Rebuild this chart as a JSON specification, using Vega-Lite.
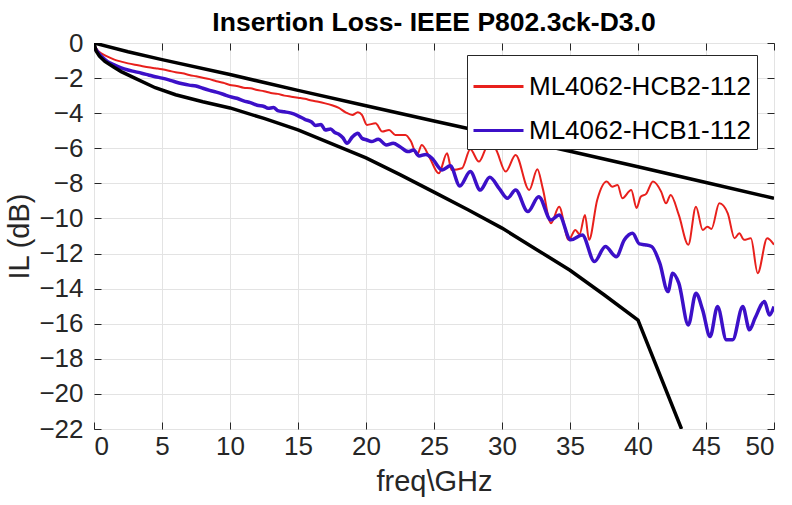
{
  "$schema": "https://vega.github.io/schema/vega-lite/v6.json",
  "width": 680,
  "height": 386,
  "autosize": "none",
  "padding": {"left": 94, "top": 43, "right": 18, "bottom": 76},
  "background": "white",
  "config": {
    "font": "Liberation Sans",
    "view": {"stroke": "#262626", "strokeWidth": 1},
    "axis": {
      "domain": false,
      "grid": true,
      "gridColor": "#e3e3e3",
      "gridWidth": 1,
      "tickColor": "#262626",
      "tickSize": -7,
      "labelFontSize": 26,
      "labelColor": "#262626",
      "titleFontSize": 29,
      "titleFontWeight": "normal",
      "titleColor": "#262626"
    },
    "legend": {
      "orient": "none",
      "legendX": 373,
      "legendY": 12,
      "symbolType": "stroke",
      "symbolSize": 2500,
      "symbolStrokeWidth": 3,
      "labelFontSize": 26,
      "labelColor": "black",
      "labelLimit": 0,
      "labelOffset": 4,
      "rowPadding": 4,
      "padding": 5,
      "strokeColor": "#262626",
      "fillColor": "white"
    }
  },
  "title": {
    "text": "Insertion Loss- IEEE P802.3ck-D3.0",
    "fontSize": 26.5,
    "fontWeight": "bold",
    "color": "black",
    "offset": -6,
    "anchor": "middle"
  },
  "datasets": {
    "meas": [
      {"s": "ML4062-HCB2-112", "f": 0, "v": -0.1},
      {"s": "ML4062-HCB2-112", "f": 0.3, "v": -0.45},
      {"s": "ML4062-HCB2-112", "f": 0.6, "v": -0.62},
      {"s": "ML4062-HCB2-112", "f": 1.0, "v": -0.78},
      {"s": "ML4062-HCB2-112", "f": 1.5, "v": -0.95},
      {"s": "ML4062-HCB2-112", "f": 2.0, "v": -1.06},
      {"s": "ML4062-HCB2-112", "f": 2.5, "v": -1.16},
      {"s": "ML4062-HCB2-112", "f": 3.0, "v": -1.24},
      {"s": "ML4062-HCB2-112", "f": 3.5, "v": -1.31},
      {"s": "ML4062-HCB2-112", "f": 4.0, "v": -1.38},
      {"s": "ML4062-HCB2-112", "f": 4.5, "v": -1.44},
      {"s": "ML4062-HCB2-112", "f": 5.0, "v": -1.5},
      {"s": "ML4062-HCB2-112", "f": 5.5, "v": -1.58},
      {"s": "ML4062-HCB2-112", "f": 6.0, "v": -1.67},
      {"s": "ML4062-HCB2-112", "f": 6.5, "v": -1.73},
      {"s": "ML4062-HCB2-112", "f": 7.0, "v": -1.82},
      {"s": "ML4062-HCB2-112", "f": 7.5, "v": -1.9},
      {"s": "ML4062-HCB2-112", "f": 8.0, "v": -1.98},
      {"s": "ML4062-HCB2-112", "f": 8.5, "v": -2.06},
      {"s": "ML4062-HCB2-112", "f": 9.0, "v": -2.18},
      {"s": "ML4062-HCB2-112", "f": 9.5, "v": -2.27},
      {"s": "ML4062-HCB2-112", "f": 10.0, "v": -2.39},
      {"s": "ML4062-HCB2-112", "f": 10.5, "v": -2.45},
      {"s": "ML4062-HCB2-112", "f": 11.0, "v": -2.55},
      {"s": "ML4062-HCB2-112", "f": 11.5, "v": -2.58},
      {"s": "ML4062-HCB2-112", "f": 12.0, "v": -2.68},
      {"s": "ML4062-HCB2-112", "f": 12.5, "v": -2.75},
      {"s": "ML4062-HCB2-112", "f": 13.0, "v": -2.85},
      {"s": "ML4062-HCB2-112", "f": 13.5, "v": -2.9},
      {"s": "ML4062-HCB2-112", "f": 14.0, "v": -3.0},
      {"s": "ML4062-HCB2-112", "f": 14.5, "v": -3.06},
      {"s": "ML4062-HCB2-112", "f": 15.0, "v": -3.12},
      {"s": "ML4062-HCB2-112", "f": 15.5, "v": -3.18},
      {"s": "ML4062-HCB2-112", "f": 16.0, "v": -3.28},
      {"s": "ML4062-HCB2-112", "f": 16.5, "v": -3.35},
      {"s": "ML4062-HCB2-112", "f": 17.0, "v": -3.44},
      {"s": "ML4062-HCB2-112", "f": 17.5, "v": -3.55},
      {"s": "ML4062-HCB2-112", "f": 18.0, "v": -3.7},
      {"s": "ML4062-HCB2-112", "f": 18.5, "v": -3.95},
      {"s": "ML4062-HCB2-112", "f": 19.0, "v": -4.1},
      {"s": "ML4062-HCB2-112", "f": 19.4, "v": -3.95},
      {"s": "ML4062-HCB2-112", "f": 19.7, "v": -4.1},
      {"s": "ML4062-HCB2-112", "f": 20.07, "v": -4.67},
      {"s": "ML4062-HCB2-112", "f": 20.7, "v": -4.58},
      {"s": "ML4062-HCB2-112", "f": 21.2, "v": -5.05},
      {"s": "ML4062-HCB2-112", "f": 21.7, "v": -4.96},
      {"s": "ML4062-HCB2-112", "f": 22.15, "v": -5.24},
      {"s": "ML4062-HCB2-112", "f": 22.9, "v": -5.24},
      {"s": "ML4062-HCB2-112", "f": 23.3, "v": -5.6},
      {"s": "ML4062-HCB2-112", "f": 23.75, "v": -6.38},
      {"s": "ML4062-HCB2-112", "f": 24.1, "v": -5.81},
      {"s": "ML4062-HCB2-112", "f": 24.7, "v": -6.57},
      {"s": "ML4062-HCB2-112", "f": 25.35, "v": -7.43},
      {"s": "ML4062-HCB2-112", "f": 25.96, "v": -6.29},
      {"s": "ML4062-HCB2-112", "f": 26.3, "v": -7.24},
      {"s": "ML4062-HCB2-112", "f": 27.06, "v": -7.14},
      {"s": "ML4062-HCB2-112", "f": 27.67, "v": -6.06},
      {"s": "ML4062-HCB2-112", "f": 28.3, "v": -6.76},
      {"s": "ML4062-HCB2-112", "f": 29.0, "v": -5.81},
      {"s": "ML4062-HCB2-112", "f": 29.5, "v": -6.0},
      {"s": "ML4062-HCB2-112", "f": 30.27, "v": -7.33},
      {"s": "ML4062-HCB2-112", "f": 31.0, "v": -6.38},
      {"s": "ML4062-HCB2-112", "f": 32.0, "v": -8.38},
      {"s": "ML4062-HCB2-112", "f": 32.6, "v": -7.2},
      {"s": "ML4062-HCB2-112", "f": 33.0, "v": -8.3},
      {"s": "ML4062-HCB2-112", "f": 33.6, "v": -10.27},
      {"s": "ML4062-HCB2-112", "f": 34.2, "v": -9.33},
      {"s": "ML4062-HCB2-112", "f": 34.9, "v": -11.22},
      {"s": "ML4062-HCB2-112", "f": 35.4, "v": -10.66},
      {"s": "ML4062-HCB2-112", "f": 35.7, "v": -10.9},
      {"s": "ML4062-HCB2-112", "f": 36.1, "v": -9.8},
      {"s": "ML4062-HCB2-112", "f": 36.4, "v": -11.22},
      {"s": "ML4062-HCB2-112", "f": 37.0, "v": -8.95},
      {"s": "ML4062-HCB2-112", "f": 37.7, "v": -7.9},
      {"s": "ML4062-HCB2-112", "f": 38.1, "v": -8.19},
      {"s": "ML4062-HCB2-112", "f": 38.5, "v": -8.09},
      {"s": "ML4062-HCB2-112", "f": 38.85, "v": -8.85},
      {"s": "ML4062-HCB2-112", "f": 39.5, "v": -8.38},
      {"s": "ML4062-HCB2-112", "f": 39.9, "v": -9.4},
      {"s": "ML4062-HCB2-112", "f": 40.2, "v": -8.76},
      {"s": "ML4062-HCB2-112", "f": 40.6, "v": -8.6},
      {"s": "ML4062-HCB2-112", "f": 41.1, "v": -7.9},
      {"s": "ML4062-HCB2-112", "f": 41.7, "v": -8.47},
      {"s": "ML4062-HCB2-112", "f": 42.06, "v": -9.14},
      {"s": "ML4062-HCB2-112", "f": 42.4, "v": -8.66},
      {"s": "ML4062-HCB2-112", "f": 43.0, "v": -9.8},
      {"s": "ML4062-HCB2-112", "f": 43.7, "v": -11.5},
      {"s": "ML4062-HCB2-112", "f": 44.26, "v": -9.33},
      {"s": "ML4062-HCB2-112", "f": 44.76, "v": -10.66},
      {"s": "ML4062-HCB2-112", "f": 45.1, "v": -10.47},
      {"s": "ML4062-HCB2-112", "f": 45.4, "v": -10.6},
      {"s": "ML4062-HCB2-112", "f": 45.98, "v": -9.14},
      {"s": "ML4062-HCB2-112", "f": 46.6, "v": -9.71},
      {"s": "ML4062-HCB2-112", "f": 47.1, "v": -11.13},
      {"s": "ML4062-HCB2-112", "f": 47.45, "v": -10.85},
      {"s": "ML4062-HCB2-112", "f": 47.8, "v": -11.22},
      {"s": "ML4062-HCB2-112", "f": 48.3, "v": -11.13},
      {"s": "ML4062-HCB2-112", "f": 48.8, "v": -13.12},
      {"s": "ML4062-HCB2-112", "f": 49.5, "v": -11.13},
      {"s": "ML4062-HCB2-112", "f": 50.0, "v": -11.5},
      {"s": "ML4062-HCB1-112", "f": 0, "v": -0.2},
      {"s": "ML4062-HCB1-112", "f": 0.3, "v": -0.55},
      {"s": "ML4062-HCB1-112", "f": 0.6, "v": -0.8},
      {"s": "ML4062-HCB1-112", "f": 1.0, "v": -1.06},
      {"s": "ML4062-HCB1-112", "f": 1.5, "v": -1.25},
      {"s": "ML4062-HCB1-112", "f": 2.0, "v": -1.42},
      {"s": "ML4062-HCB1-112", "f": 2.5, "v": -1.54},
      {"s": "ML4062-HCB1-112", "f": 3.0, "v": -1.63},
      {"s": "ML4062-HCB1-112", "f": 3.5, "v": -1.72},
      {"s": "ML4062-HCB1-112", "f": 4.0, "v": -1.82},
      {"s": "ML4062-HCB1-112", "f": 4.5, "v": -1.92},
      {"s": "ML4062-HCB1-112", "f": 5.0, "v": -2.0},
      {"s": "ML4062-HCB1-112", "f": 5.5, "v": -2.1},
      {"s": "ML4062-HCB1-112", "f": 6.0, "v": -2.22},
      {"s": "ML4062-HCB1-112", "f": 6.5, "v": -2.32},
      {"s": "ML4062-HCB1-112", "f": 7.0, "v": -2.4},
      {"s": "ML4062-HCB1-112", "f": 7.5, "v": -2.45},
      {"s": "ML4062-HCB1-112", "f": 8.0, "v": -2.58},
      {"s": "ML4062-HCB1-112", "f": 8.5, "v": -2.7},
      {"s": "ML4062-HCB1-112", "f": 9.0, "v": -2.8},
      {"s": "ML4062-HCB1-112", "f": 9.5, "v": -2.92},
      {"s": "ML4062-HCB1-112", "f": 10.0, "v": -3.06},
      {"s": "ML4062-HCB1-112", "f": 10.5, "v": -3.15},
      {"s": "ML4062-HCB1-112", "f": 11.0, "v": -3.3},
      {"s": "ML4062-HCB1-112", "f": 11.5, "v": -3.4},
      {"s": "ML4062-HCB1-112", "f": 12.0, "v": -3.55},
      {"s": "ML4062-HCB1-112", "f": 12.5, "v": -3.62},
      {"s": "ML4062-HCB1-112", "f": 12.8, "v": -3.72},
      {"s": "ML4062-HCB1-112", "f": 13.2, "v": -3.68},
      {"s": "ML4062-HCB1-112", "f": 13.5, "v": -3.85},
      {"s": "ML4062-HCB1-112", "f": 14.0, "v": -3.92},
      {"s": "ML4062-HCB1-112", "f": 14.5, "v": -4.0},
      {"s": "ML4062-HCB1-112", "f": 15.0, "v": -4.15},
      {"s": "ML4062-HCB1-112", "f": 15.5, "v": -4.35},
      {"s": "ML4062-HCB1-112", "f": 16.0, "v": -4.5},
      {"s": "ML4062-HCB1-112", "f": 16.3, "v": -4.7},
      {"s": "ML4062-HCB1-112", "f": 16.7, "v": -4.65},
      {"s": "ML4062-HCB1-112", "f": 17.0, "v": -4.96},
      {"s": "ML4062-HCB1-112", "f": 17.4, "v": -4.9},
      {"s": "ML4062-HCB1-112", "f": 17.7, "v": -5.1},
      {"s": "ML4062-HCB1-112", "f": 18.0, "v": -5.2},
      {"s": "ML4062-HCB1-112", "f": 18.3, "v": -5.4},
      {"s": "ML4062-HCB1-112", "f": 18.6, "v": -5.72},
      {"s": "ML4062-HCB1-112", "f": 19.0, "v": -5.35},
      {"s": "ML4062-HCB1-112", "f": 19.4, "v": -5.15},
      {"s": "ML4062-HCB1-112", "f": 19.7, "v": -5.43},
      {"s": "ML4062-HCB1-112", "f": 20.07, "v": -5.53},
      {"s": "ML4062-HCB1-112", "f": 20.4, "v": -5.62},
      {"s": "ML4062-HCB1-112", "f": 20.9, "v": -5.49},
      {"s": "ML4062-HCB1-112", "f": 21.5, "v": -5.81},
      {"s": "ML4062-HCB1-112", "f": 22.0, "v": -5.72},
      {"s": "ML4062-HCB1-112", "f": 22.5, "v": -5.91},
      {"s": "ML4062-HCB1-112", "f": 23.1, "v": -6.19},
      {"s": "ML4062-HCB1-112", "f": 23.5, "v": -6.1},
      {"s": "ML4062-HCB1-112", "f": 23.9, "v": -6.44},
      {"s": "ML4062-HCB1-112", "f": 24.4, "v": -6.35},
      {"s": "ML4062-HCB1-112", "f": 24.85, "v": -6.57},
      {"s": "ML4062-HCB1-112", "f": 25.6, "v": -7.24},
      {"s": "ML4062-HCB1-112", "f": 26.2, "v": -7.0},
      {"s": "ML4062-HCB1-112", "f": 26.9, "v": -8.15},
      {"s": "ML4062-HCB1-112", "f": 27.67, "v": -7.33},
      {"s": "ML4062-HCB1-112", "f": 28.4, "v": -8.38},
      {"s": "ML4062-HCB1-112", "f": 29.1, "v": -7.65},
      {"s": "ML4062-HCB1-112", "f": 29.8, "v": -8.3},
      {"s": "ML4062-HCB1-112", "f": 30.4, "v": -8.85},
      {"s": "ML4062-HCB1-112", "f": 31.0, "v": -8.38},
      {"s": "ML4062-HCB1-112", "f": 31.9, "v": -9.61},
      {"s": "ML4062-HCB1-112", "f": 32.7, "v": -8.76},
      {"s": "ML4062-HCB1-112", "f": 33.6, "v": -10.09},
      {"s": "ML4062-HCB1-112", "f": 34.2, "v": -9.8},
      {"s": "ML4062-HCB1-112", "f": 35.05, "v": -11.22},
      {"s": "ML4062-HCB1-112", "f": 35.9, "v": -10.94},
      {"s": "ML4062-HCB1-112", "f": 36.8, "v": -12.46},
      {"s": "ML4062-HCB1-112", "f": 37.6, "v": -11.6},
      {"s": "ML4062-HCB1-112", "f": 38.4, "v": -12.18},
      {"s": "ML4062-HCB1-112", "f": 39.0, "v": -11.22},
      {"s": "ML4062-HCB1-112", "f": 39.6, "v": -10.85},
      {"s": "ML4062-HCB1-112", "f": 40.1, "v": -11.45},
      {"s": "ML4062-HCB1-112", "f": 40.5, "v": -11.5},
      {"s": "ML4062-HCB1-112", "f": 41.0, "v": -11.6},
      {"s": "ML4062-HCB1-112", "f": 41.6, "v": -12.55},
      {"s": "ML4062-HCB1-112", "f": 42.2, "v": -14.17},
      {"s": "ML4062-HCB1-112", "f": 42.55, "v": -13.12},
      {"s": "ML4062-HCB1-112", "f": 43.0, "v": -13.69},
      {"s": "ML4062-HCB1-112", "f": 43.7, "v": -16.07},
      {"s": "ML4062-HCB1-112", "f": 44.26, "v": -14.26},
      {"s": "ML4062-HCB1-112", "f": 44.75, "v": -15.21},
      {"s": "ML4062-HCB1-112", "f": 45.3, "v": -16.73},
      {"s": "ML4062-HCB1-112", "f": 45.85, "v": -15.02},
      {"s": "ML4062-HCB1-112", "f": 46.5, "v": -16.92},
      {"s": "ML4062-HCB1-112", "f": 46.96, "v": -16.92},
      {"s": "ML4062-HCB1-112", "f": 47.7, "v": -15.02},
      {"s": "ML4062-HCB1-112", "f": 48.2, "v": -16.35},
      {"s": "ML4062-HCB1-112", "f": 48.6, "v": -15.69},
      {"s": "ML4062-HCB1-112", "f": 49.3, "v": -14.74},
      {"s": "ML4062-HCB1-112", "f": 49.66, "v": -15.5},
      {"s": "ML4062-HCB1-112", "f": 50.0, "v": -15.02}
    ],
    "limits": [
      {"s": "upper", "f": 0, "v": 0},
      {"s": "upper", "f": 2.5, "v": -0.5},
      {"s": "upper", "f": 5, "v": -0.95},
      {"s": "upper", "f": 10, "v": -1.8},
      {"s": "upper", "f": 15, "v": -2.7},
      {"s": "upper", "f": 20, "v": -3.58},
      {"s": "upper", "f": 25, "v": -4.45},
      {"s": "upper", "f": 30, "v": -5.3},
      {"s": "upper", "f": 35, "v": -6.17},
      {"s": "upper", "f": 40, "v": -7.05},
      {"s": "upper", "f": 45, "v": -7.95},
      {"s": "upper", "f": 50, "v": -8.85},
      {"s": "lower", "f": 0, "v": 0},
      {"s": "lower", "f": 0.15, "v": -0.45},
      {"s": "lower", "f": 0.4, "v": -0.75},
      {"s": "lower", "f": 0.8, "v": -1.05},
      {"s": "lower", "f": 1.5, "v": -1.4},
      {"s": "lower", "f": 2, "v": -1.63},
      {"s": "lower", "f": 3, "v": -2.0},
      {"s": "lower", "f": 4.5, "v": -2.55},
      {"s": "lower", "f": 6, "v": -2.95},
      {"s": "lower", "f": 8, "v": -3.35},
      {"s": "lower", "f": 10, "v": -3.7},
      {"s": "lower", "f": 12.5, "v": -4.3},
      {"s": "lower", "f": 15, "v": -4.95},
      {"s": "lower", "f": 17.5, "v": -5.75},
      {"s": "lower", "f": 20, "v": -6.55},
      {"s": "lower", "f": 22.5, "v": -7.5},
      {"s": "lower", "f": 25, "v": -8.5},
      {"s": "lower", "f": 27.5, "v": -9.5},
      {"s": "lower", "f": 30, "v": -10.55},
      {"s": "lower", "f": 32.5, "v": -11.75},
      {"s": "lower", "f": 35, "v": -12.95},
      {"s": "lower", "f": 37.5, "v": -14.35},
      {"s": "lower", "f": 40, "v": -15.8},
      {"s": "lower", "f": 43.2, "v": -22}
    ]
  },
  "layer": [
    {
      "data": {"name": "meas"},
      "transform": [{"filter": "datum.s === 'ML4062-HCB2-112'"}],
      "mark": {"type": "line", "interpolate": "monotone", "clip": true, "strokeWidth": 2},
      "encoding": {
        "x": {
          "field": "f", "type": "quantitative",
          "scale": {"domain": [0, 50], "nice": false, "zero": false},
          "axis": {"values": [0, 5, 10, 15, 20, 25, 30, 35, 40, 45, 50], "title": "freq\\GHz", "labelPadding": 11, "titlePadding": 8}
        },
        "y": {
          "field": "v", "type": "quantitative",
          "scale": {"domain": [-22, 0], "nice": false, "zero": false},
          "axis": {"values": [0, -2, -4, -6, -8, -10, -12, -14, -16, -18, -20, -22], "title": "IL (dB)", "labelPadding": 18, "titlePadding": 4}
        },
        "color": {
          "field": "s", "type": "nominal",
          "scale": {"domain": ["ML4062-HCB2-112", "ML4062-HCB1-112"], "range": ["#e8201c", "#3c10c8"]},
          "legend": {"title": null}
        }
      }
    },
    {
      "data": {"name": "meas"},
      "transform": [{"filter": "datum.s === 'ML4062-HCB1-112'"}],
      "mark": {"type": "line", "interpolate": "monotone", "clip": true, "strokeWidth": 3.5},
      "encoding": {
        "x": {"field": "f", "type": "quantitative", "axis": null},
        "y": {"field": "v", "type": "quantitative", "axis": null},
        "color": {"field": "s", "type": "nominal", "legend": {"title": null}}
      }
    },
    {
      "data": {"name": "limits"},
      "mark": {"type": "line", "color": "black", "strokeWidth": 3.5, "clip": true},
      "encoding": {
        "x": {"field": "f", "type": "quantitative", "axis": {"orient": "top", "values": [0, 5, 10, 15, 20, 25, 30, 35, 40, 45, 50], "labels": false, "grid": false, "title": null}},
        "y": {"field": "v", "type": "quantitative", "axis": {"orient": "right", "values": [0, -2, -4, -6, -8, -10, -12, -14, -16, -18, -20, -22], "labels": false, "grid": false, "title": null}},
        "detail": {"field": "s"}
      }
    }
  ],
  "resolve": {"axis": {"x": "independent", "y": "independent"}}
}
